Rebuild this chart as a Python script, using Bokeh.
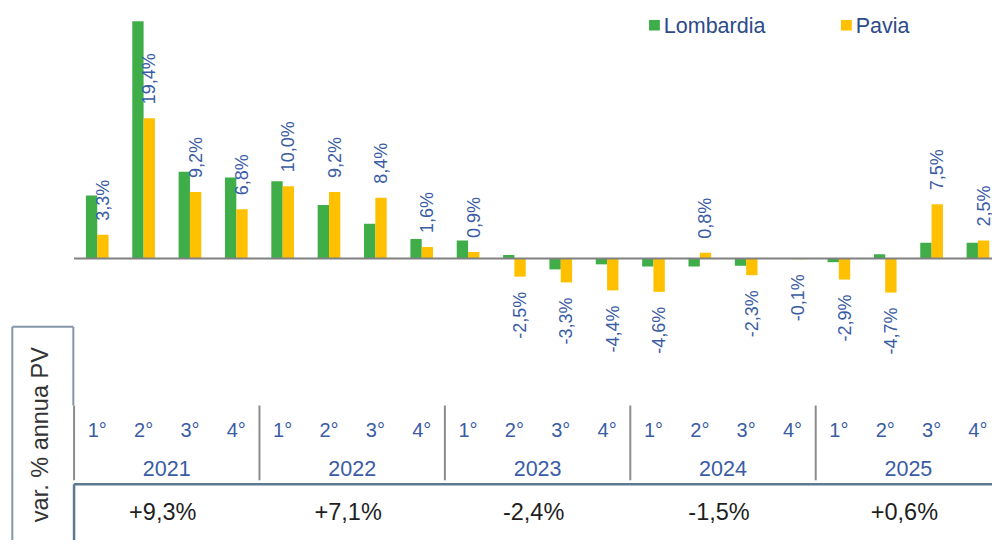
from math import pi
from bokeh.plotting import figure
from bokeh.models import ColumnDataSource, Range1d
from bokeh.transform import dodge
from bokeh.core.properties import value
from bokeh.embed import file_html
from bokeh.resources import INLINE

# ---------------- data ----------------
years = ["2021", "2022", "2023", "2024", "2025"]
quarters = ["1°", "2°", "3°", "4°"]
lombardia = [8.7, 32.8, 12.0, 11.2, 10.7, 7.4, 4.8, 2.7, 2.5, 0.5, -1.5, -0.8,
             -1.1, -1.1, -1.0, 0.0, -0.5, 0.6, 2.2, 2.2]
pavia = [3.3, 19.4, 9.2, 6.8, 10.0, 9.2, 8.4, 1.6, 0.9, -2.5, -3.3, -4.4,
         -4.6, 0.8, -2.3, -0.1, -2.9, -4.7, 7.5, 2.5]
annual = ["+9,3%", "+7,1%", "-2,4%", "-1,5%", "+0,6%"]
series_names = ["Lombardia", "Pavia"]
side_label = "var. % annua PV"

# ---------------- layout / style ----------------
W, H = 992, 540            # figure size (fits the 1008x556 window with 8px margin)
RW, RH = 1008, 556         # design space
X0, DX = 98.3, 47.1        # design x of first quarter centre, units per quarter
Y0, DY = 265.7, 7.45       # design y of zero line, units per percentage point

GREEN = "#3FAE49"
YELLOW = "#FFC000"
LABEL_BLUE = "#3A5CA5"
LEGEND_BLUE = "#2C4A88"
FONT = value("Liberation Sans")


def qx(X):
    return (X - X0) / DX


def vy(Y):
    return (Y0 - Y) / DY


p = figure(width=W, height=H,
           x_range=Range1d(qx(0), qx(RW)),
           y_range=Range1d(vy(RH), vy(0)),
           output_backend="svg", toolbar_location=None,
           x_axis_location=None, y_axis_location=None,
           min_border=0, outline_line_color=None,
           background_fill_color="white", border_fill_color="white")
p.xgrid.visible = False
p.ygrid.visible = False
p.extra_x_ranges = {"px": Range1d(0, RW)}
p.extra_y_ranges = {"py": Range1d(RH, 0)}

n = len(lombardia)
idx = list(range(n))
fmt = [f"{v:.1f}".replace(".", ",") + "%" for v in pavia]
src = ColumnDataSource(dict(i=idx, lom=lombardia, pav=pavia, lab=fmt))

OFF, BW = 0.122, 0.245
p.vbar(x=dodge("i", -OFF), top="lom", bottom=0, width=BW, source=src,
       fill_color=GREEN, line_color=None)
p.vbar(x=dodge("i", OFF), top="pav", bottom=0, width=BW, source=src,
       fill_color=YELLOW, line_color=None)

# zero line
x_end = qx(RW)
p.segment(x0=[-0.5], y0=[0], x1=[x_end], y1=[0], line_color="#808080", line_width=2)

# data labels (Pavia values), rotated
pos = ColumnDataSource(dict(x=[i + OFF for i in idx if pavia[i] >= 0],
                            y=[pavia[i] for i in idx if pavia[i] >= 0],
                            t=[fmt[i] for i in idx if pavia[i] >= 0]))
neg = ColumnDataSource(dict(x=[i + OFF for i in idx if pavia[i] < 0],
                            y=[pavia[i] for i in idx if pavia[i] < 0],
                            t=[fmt[i] for i in idx if pavia[i] < 0]))
p.text(x="x", y="y", text="t", source=pos, angle=pi / 2, text_align="left",
       text_baseline="middle", y_offset=-14, text_font=FONT,
       text_font_size="18px", text_color=LABEL_BLUE)
p.text(x="x", y="y", text="t", source=neg, angle=pi / 2, text_align="right",
       text_baseline="middle", y_offset=15, text_font=FONT,
       text_font_size="18px", text_color=LABEL_BLUE)

# legend
p.rect(x=[664.5, 859.5], y=[25.5, 25.5], width=11, height=11,
       fill_color=[GREEN, YELLOW], line_color=None,
       x_range_name="px", y_range_name="py")
p.text(x=[674, 869], y=[26, 26], text=series_names, text_align="left",
       text_baseline="middle", text_font=FONT, text_font_size="21.5px",
       text_color=LEGEND_BLUE, x_range_name="px", y_range_name="py")

# ---------------- table ----------------
BOX = "#8597A9"
TAB = "#5E7892"
SEP = "#8C8C8C"
# side box
p.segment(x0=[12, 12, 74], y0=[556, 336, 336], x1=[12, 74, 74], y1=[336, 336, 417],
          line_color=BOX, line_width=2, x_range_name="px", y_range_name="py")
p.text(x=[40], y=[447], text=[side_label], angle=pi / 2, text_align="center",
       text_baseline="middle", text_font=FONT, text_font_size="23.5px",
       text_color="#333333", x_range_name="px", y_range_name="py")

ny = len(years)
nq = len(quarters)
seps = [k * nq - 0.5 for k in range(ny)]
p.segment(x0=seps, y0=[417] * ny, x1=seps, y1=[494] * ny,
          line_color=SEP, line_width=2, y_range_name="py")
p.segment(x0=[-0.5, -0.5], y0=[498, 498], x1=[x_end, -0.5], y1=[498, 556],
          line_color=TAB, line_width=2.5, y_range_name="py")

q_lab = [quarters[i % nq] for i in idx]
p.text(x=idx, y=[442] * n, text=q_lab, text_align="center", text_baseline="middle",
       text_font=FONT, text_font_size="20px", text_color=LABEL_BLUE,
       y_range_name="py")
ycent = [k * nq + (nq - 1) / 2 for k in range(ny)]
p.text(x=ycent, y=[482] * ny, text=years, text_align="center", text_baseline="middle",
       text_font=FONT, text_font_size="21.5px", text_color=LABEL_BLUE,
       y_range_name="py")
p.text(x=ycent, y=[527] * ny, text=annual, text_align="center", text_baseline="middle",
       x_offset=-4, text_font=FONT, text_font_size="23.5px", text_color="#1E1E1E",
       y_range_name="py")

open("out.html", "w").write(file_html(p, INLINE))
